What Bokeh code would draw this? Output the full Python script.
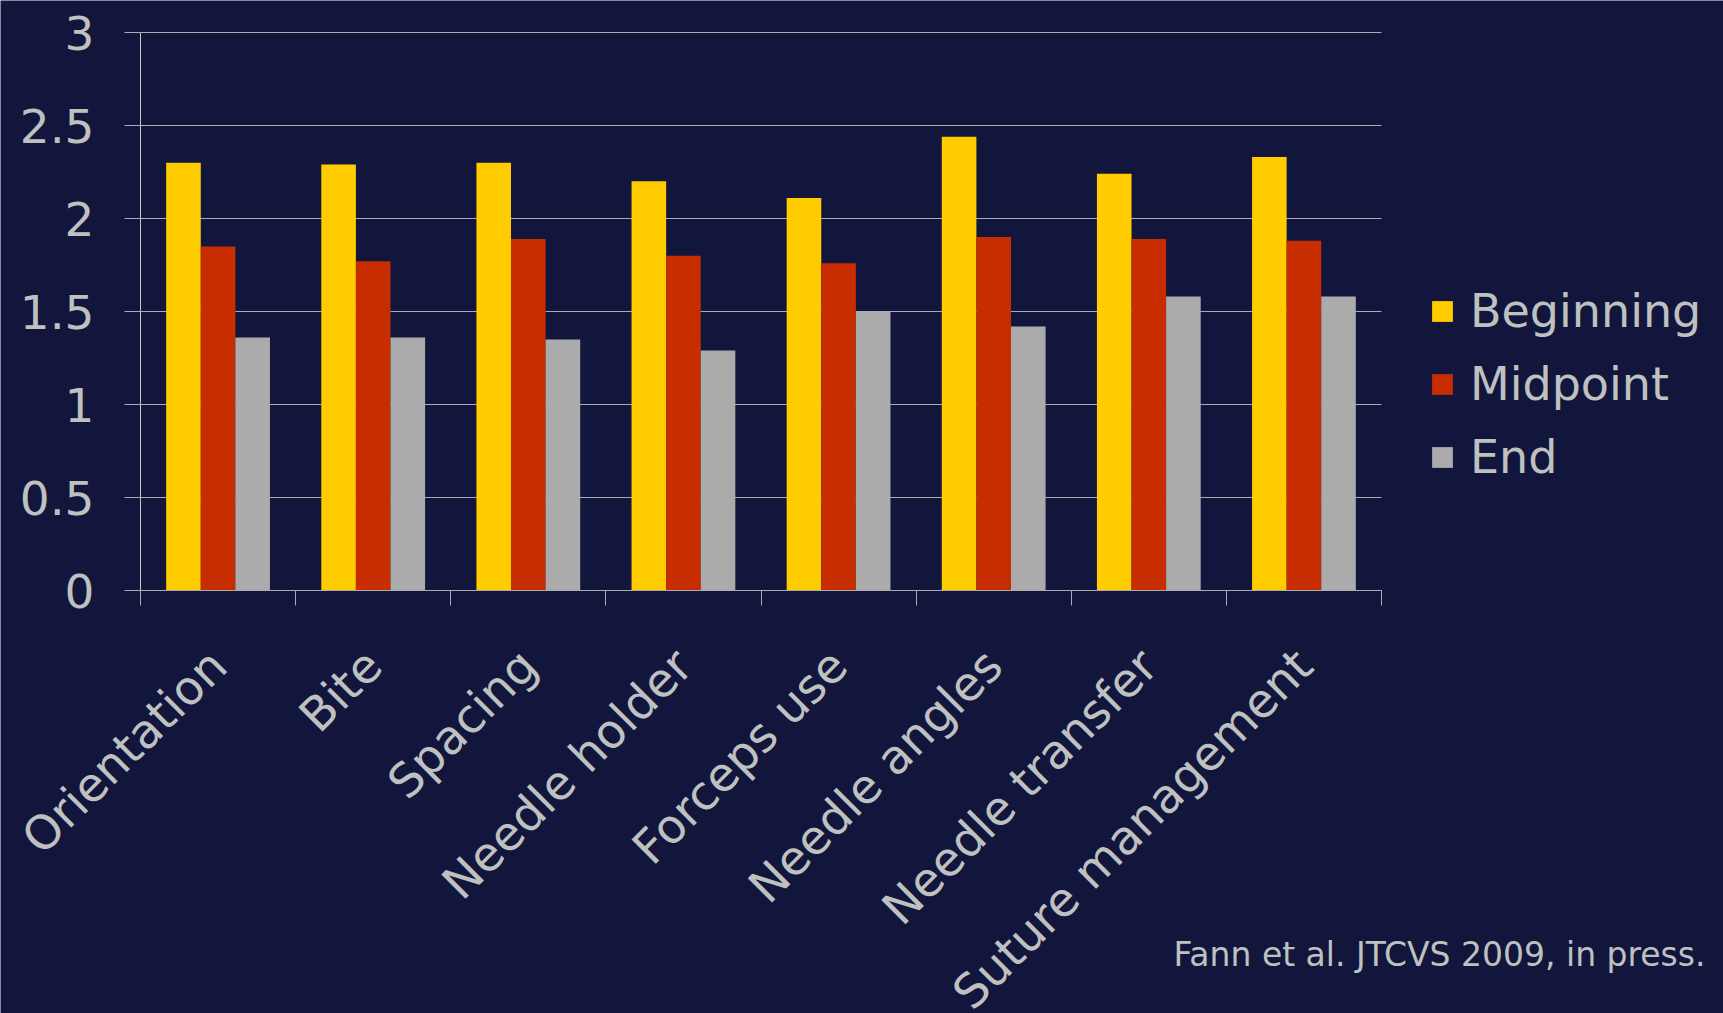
import math
from bokeh.plotting import figure
from bokeh.models import (Range1d, FixedTicker, Legend, LegendItem, Label,
                          ColumnDataSource)
from bokeh.embed import file_html
from bokeh.resources import INLINE

# ---- data ----
categories = ["Orientation", "Bite", "Spacing", "Needle holder", "Forceps use",
              "Needle angles", "Needle transfer", "Suture management"]
series_names = ["Beginning", "Midpoint", "End"]
beginning = [2.30, 2.29, 2.30, 2.20, 2.11, 2.44, 2.24, 2.33]
midpoint = [1.85, 1.77, 1.89, 1.80, 1.76, 1.90, 1.89, 1.88]
end = [1.36, 1.36, 1.35, 1.29, 1.50, 1.42, 1.58, 1.58]
y_ticks = [0, 0.5, 1, 1.5, 2, 2.5, 3]
y_tick_labels = ["0", "0.5", "1", "1.5", "2", "2.5", "3"]
footnote = "Fann et al. JTCVS 2009, in press."

# ---- style / layout ----
BG = "#13163C"
TXT = "#BFC1C1"
GRID = "#A9ABB0"
COLORS = ["#FFCC00", "#C82D00", "#ABABAB"]
FONT = "DejaVu Sans"
BAR_W = 0.223

W, H = 1723, 1013
LEFT, TOP = 140, 32                 # pixel position of the value area's top-left
PLOT_W, PLOT_H = 1241, 558          # pixel size of the value area (0..8, 0..3)
N = len(categories)
YMAX = 3.0
px_x = PLOT_W / N                   # pixels per category
px_y = PLOT_H / YMAX                # pixels per unit
x_start = -LEFT / px_x
x_end = (W - LEFT) / px_x
y_end = YMAX + TOP / px_y
y_start = YMAX - (H - TOP) / px_y

p = figure(width=W, height=H, output_backend="svg", toolbar_location=None,
           x_range=Range1d(x_start, x_end), y_range=Range1d(y_start, y_end),
           min_border_left=0, min_border_right=0,
           min_border_top=0, min_border_bottom=0)
p.background_fill_color = BG
p.border_fill_color = BG
p.outline_line_color = None
p.xgrid.visible = False
p.ygrid.visible = False

# grid lines over the value area only
p.segment(x0=[0] * len(y_ticks), x1=[N] * len(y_ticks), y0=y_ticks, y1=y_ticks,
          line_color=GRID, line_width=1)

centers = [i + 0.5 for i in range(N)]
renderers = []
for k, (name, vals) in enumerate(zip(series_names, [beginning, midpoint, end])):
    off = (k - 1) * BAR_W
    src = ColumnDataSource(dict(x=[c + off for c in centers], top=vals))
    r = p.vbar(x="x", top="top", width=BAR_W, bottom=0, source=src,
               fill_color=COLORS[k], line_color=None)
    renderers.append((name, r))

# y axis, fixed at x = 0
yax = p.yaxis[0]
yax.fixed_location = 0
yax.bounds = (0, YMAX)
yax.ticker = FixedTicker(ticks=y_ticks)
yax.major_label_overrides = {t: l for t, l in zip(y_ticks, y_tick_labels)}
yax.major_label_text_font = FONT
yax.major_label_text_font_size = "47px"
yax.major_label_text_color = TXT
yax.major_label_standoff = 30
yax.major_tick_out = 16
yax.major_tick_in = 0
yax.major_tick_line_color = GRID
yax.minor_tick_line_color = None
yax.axis_line_color = "#C8C8C8"

# x axis, fixed at y = 0
xax = p.xaxis[0]
xax.fixed_location = 0
xax.bounds = (0, N)
xax.ticker = FixedTicker(ticks=centers, minor_ticks=list(range(N + 1)))
xax.major_label_overrides = {c: n for c, n in zip(centers, categories)}
xax.major_label_orientation = math.pi / 4
xax.major_label_text_font = FONT
xax.major_label_text_font_size = "47px"
xax.major_label_text_color = TXT
xax.major_label_standoff = 52
xax.major_tick_line_color = None
xax.minor_tick_out = 15
xax.minor_tick_in = 0
xax.minor_tick_line_color = GRID
xax.axis_line_color = GRID

legend = Legend(items=[LegendItem(label=n, renderers=[r]) for n, r in renderers],
                location=(1429, 520), orientation="vertical",
                glyph_width=26, glyph_height=26, label_standoff=15,
                label_height=73, spacing=0, padding=0, margin=0,
                label_text_font=FONT, label_text_font_size="46px",
                label_text_color=TXT, border_line_color=None,
                background_fill_alpha=0)
p.add_layout(legend, "center")

p.add_layout(Label(x=(1705 - LEFT) / px_x, y=-(954 - TOP - PLOT_H) / px_y,
                   text=footnote, text_align="right", text_baseline="alphabetic",
                   text_font=FONT, text_font_size="33px", text_color=TXT))

open("out.html", "w").write(file_html(p, INLINE))
